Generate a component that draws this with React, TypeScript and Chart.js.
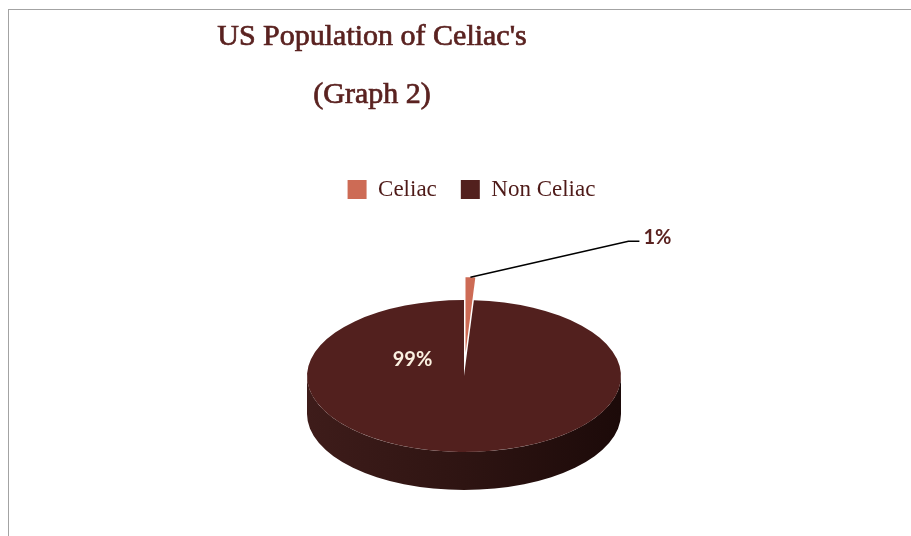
import React, { useEffect, useRef } from "react";
import { Chart, registerables } from "chart.js";

Chart.register(...registerables);

// ---- data ----
const categories = ["Celiac", "Non Celiac"];
const shares = [1, 99];
const shareLabels = ["1%", "99%"];
const sliceColors = ["#cd6b55", "#52201e"];
const titleLines = ["US Population of Celiac's", "(Graph 2)"];

// ---- look ----
const CANVAS_W = 902;
const CANVAS_H = 526;
const PIE_RADIUS = 157;
const TILT = 0.484;
const DEPTH = 38;
const PIE_CX = 455;
const PIE_CY = 366;
const EXPLODE = 47;
const TEXT_COLOR = "#5a2220";

function explodeVector(el: any) {
  const mid = (el.startAngle + el.endAngle) / 2;
  return { mid, dx: Math.cos(mid) * EXPLODE, dy: Math.sin(mid) * EXPLODE };
}

const pie3d = {
  id: "pie3d",
  afterUpdate(chart: any) {
    const meta = chart.getDatasetMeta(0);
    const el = meta.data[0];
    if (el && !el.__exploded) {
      const orig = el.draw;
      el.draw = function (ctx: CanvasRenderingContext2D, area: any) {
        const v = explodeVector(this);
        ctx.save();
        ctx.translate(v.dx, v.dy);
        orig.call(this, ctx, area);
        ctx.restore();
      };
      el.__exploded = true;
    }
  },
  beforeDatasetsDraw(chart: any) {
    const meta = chart.getDatasetMeta(0);
    const arcs = meta.data;
    const ctx = chart.ctx as CanvasRenderingContext2D;
    ctx.save();
    if (!arcs.length) return;
    const cx = arcs[0].x;
    const cy = arcs[0].y;
    ctx.translate(PIE_CX, PIE_CY);
    ctx.scale(1, TILT);
    ctx.translate(-cx, -cy);
    const main = arcs[1];
    const r = main.outerRadius;
    const d = DEPTH / TILT;
    const g = ctx.createLinearGradient(cx - r, 0, cx + r, 0);
    g.addColorStop(0, "#3e1c1a");
    g.addColorStop(0.5, "#2e1412");
    g.addColorStop(1, "#1c0a09");
    ctx.beginPath();
    ctx.arc(cx, cy, r, 0, Math.PI);
    ctx.lineTo(cx - r, cy + d);
    ctx.arc(cx, cy + d, r, Math.PI, 0, true);
    ctx.closePath();
    ctx.fillStyle = g;
    ctx.fill();
  },
  afterDatasetsDraw(chart: any) {
    const ctx = chart.ctx as CanvasRenderingContext2D;
    ctx.restore();
    const meta = chart.getDatasetMeta(0);
    const cel = meta.data[0];
    if (!cel) return;
    const cx = cel.x;
    const cy = cel.y;
    const toScreen = (x: number, y: number) => ({
      x: PIE_CX + (x - cx),
      y: PIE_CY + (y - cy) * TILT,
    });
    const v = explodeVector(cel);
    const rr = cel.outerRadius;
    const tip = toScreen(
      cx + v.dx + Math.cos(v.mid) * rr,
      cy + v.dy + Math.sin(v.mid) * rr
    );
    const elbow = { x: tip.x + 158, y: tip.y - 36 };
    const end = { x: elbow.x + 11, y: elbow.y };
    ctx.save();
    ctx.strokeStyle = "#000";
    ctx.lineWidth = 1.6;
    ctx.beginPath();
    ctx.moveTo(tip.x, tip.y);
    ctx.lineTo(elbow.x, elbow.y);
    ctx.lineTo(end.x, end.y);
    ctx.stroke();
    ctx.font = "bold 20px Lato";
    ctx.fillStyle = TEXT_COLOR;
    ctx.textAlign = "left";
    ctx.textBaseline = "alphabetic";
    ctx.fillText(shareLabels[0], end.x + 4, end.y + 3);
    ctx.font = "bold 20px Lato";
    ctx.fillStyle = "#fbf1e1";
    ctx.textAlign = "center";
    ctx.fillText(shareLabels[1], PIE_CX - 51.5, PIE_CY - 10);
    ctx.restore();
  },
};

export default function App() {
  const ref = useRef<HTMLCanvasElement | null>(null);
  useEffect(() => {
    if (!ref.current) return;
    const chart = new Chart(ref.current, {
      type: "pie",
      data: {
        labels: categories,
        datasets: [
          {
            data: shares,
            backgroundColor: sliceColors,
            borderWidth: 0,
            radius: PIE_RADIUS,
            clip: false,
          } as any,
        ],
      },
      options: {
        animation: false,
        responsive: false,
        events: [],
        layout: { padding: { top: 144, left: 23, right: 0, bottom: 0 } },
        plugins: {
          tooltip: { enabled: false },
          title: { display: false },
          legend: {
            display: true,
            position: "top",
            fullSize: false,
            labels: {
              boxWidth: 19,
              boxHeight: 19,
              padding: 24,
              color: "#4e1a18",
              font: { family: "'Liberation Serif', serif", size: 23 },
            },
          },
        },
      } as any,
      plugins: [pie3d],
    });
    return () => chart.destroy();
  }, []);

  return (
    <div
      style={{
        position: "absolute",
        left: 8,
        top: 9,
        width: 903,
        height: 527,
        borderTop: "1px solid #a3a3a3",
        borderLeft: "1px solid #a3a3a3",
        background: "#fff",
        overflow: "hidden",
      }}
    >
      <div
        style={{
          position: "absolute",
          left: 163,
          top: -4,
          width: 400,
          textAlign: "center",
          fontFamily: "'Liberation Serif', serif",
          fontSize: 30,
          lineHeight: "58px",
          color: "#5a2220",
          WebkitTextStroke: "0.7px #5a2220",
          zIndex: 1,
        }}
      >
        {titleLines.map((t) => (
          <div key={t}>{t}</div>
        ))}
      </div>
      <canvas
        ref={ref}
        width={CANVAS_W}
        height={CANVAS_H}
        style={{ position: "absolute", left: 0, top: 0, width: CANVAS_W, height: CANVAS_H }}
      />
    </div>
  );
}
